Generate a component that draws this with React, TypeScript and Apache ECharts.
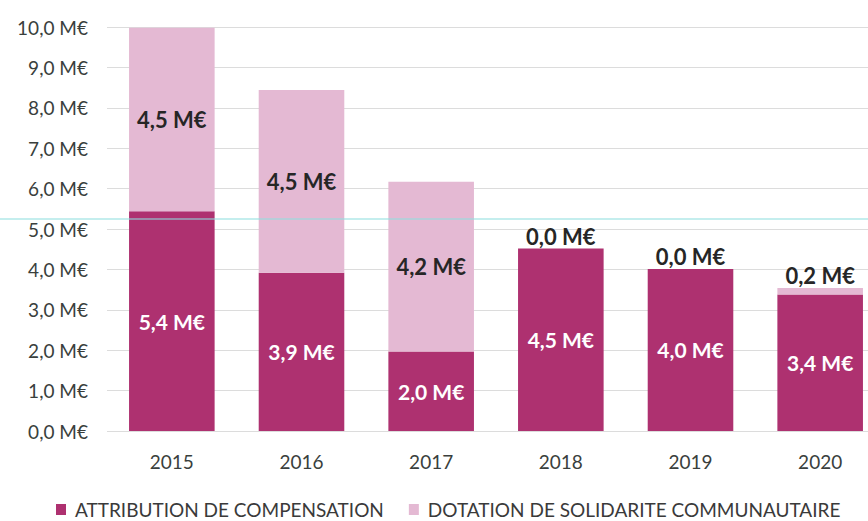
import React, { useEffect, useRef } from "react";
import * as echarts from "echarts";

const years = ["2015", "2016", "2017", "2018", "2019", "2020"];
const attribution = [5.44, 3.92, 1.97, 4.52, 4.01, 3.38];
const dotation = [4.54, 4.52, 4.2, 0, 0, 0.16];
const dotationLabelOutside = [false, false, false, true, true, true];
const seriesNames = ["ATTRIBUTION DE COMPENSATION", "DOTATION DE SOLIDARITE COMMUNAUTAIRE"];

const fmt = (v: number) => v.toFixed(1).replace(".", ",") + " M€";

export default function App() {
  const ref = useRef<HTMLDivElement>(null);
  useEffect(() => {
    if (!ref.current) return;
    const chart = echarts.init(ref.current, undefined, { renderer: "svg" });
    const labelFont = "Lato, 'Open Sans', sans-serif";
    chart.setOption({
      animation: false,
      backgroundColor: "#ffffff",
      grid: { left: 107, right: 0, top: 27, bottom: 90 },
      legend: {
        top: 495,
        left: 51,
        width: 860,
        itemWidth: 10,
        itemHeight: 11,
        itemGap: 25,
        icon: "rect",
        textStyle: {
          fontFamily: labelFont,
          fontSize: 19,
          color: "#3a3a3a",
          padding: [0, 0, 0, 4],
        },
        data: seriesNames,
      },
      xAxis: {
        type: "category",
        data: years,
        axisLine: { show: false },
        axisTick: { show: false },
        axisLabel: { color: "#3a3f3d", fontSize: 19, fontFamily: labelFont, margin: 21 },
      },
      yAxis: {
        type: "value",
        min: 0,
        max: 10,
        interval: 1,
        axisLine: { show: false },
        axisTick: { show: false },
        splitLine: { lineStyle: { color: "#dcdcdc", width: 1 } },
        axisLabel: {
          color: "#3a3f3d",
          fontSize: 19,
          fontFamily: labelFont,
          margin: 19,
          formatter: (v: number) => fmt(v),
        },
      },
      series: [
        {
          name: seriesNames[0],
          type: "bar",
          stack: "total",
          barWidth: "66%",
          itemStyle: { color: "#ae3170" },
          label: {
            show: true,
            position: "inside",
            color: "#ffffff",
            fontWeight: "bold",
            fontSize: 21,
            fontFamily: labelFont,
            formatter: (p: any) => fmt(p.value),
          },
          data: attribution,
        },
        {
          name: seriesNames[1],
          type: "bar",
          stack: "total",
          barWidth: "66%",
          itemStyle: { color: "#e4b9d3" },
          label: {
            show: true,
            position: "inside",
            color: "#262626",
            fontWeight: "bold",
            fontSize: 22,
            fontFamily: labelFont,
            formatter: (p: any) => fmt(p.value),
          },
          data: dotation.map((v, i) =>
            dotationLabelOutside[i]
              ? { value: v, label: { position: "top", distance: 1 } }
              : { value: v }
          ),
        },
      ],
      graphic: [
        {
          type: "line",
          z: 100,
          shape: { x1: 0, y1: 219, x2: 885, y2: 219 },
          style: { stroke: "#8fdede", lineWidth: 1.5, opacity: 0.7 },
        },
      ],
    });
    return () => chart.dispose();
  }, []);
  return (
    <div
      ref={ref}
      style={{ position: "fixed", left: 0, top: 0, width: 885, height: 521 }}
    />
  );
}
